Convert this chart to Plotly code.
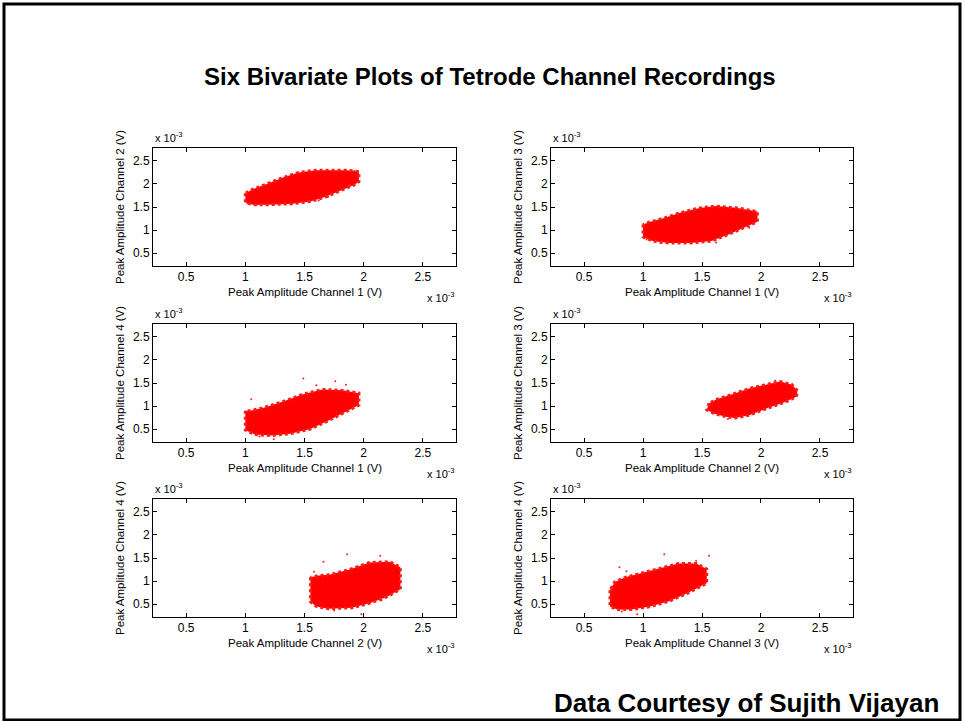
import plotly.graph_objects as go

# Peak amplitudes in mV (axes carry the x 10^-3 V scale label)
# Each cluster is described by its outline and a few stray spikes.
pairs = [("Channel 1", "Channel 2"), ("Channel 1", "Channel 3"),
         ("Channel 1", "Channel 4"), ("Channel 2", "Channel 3"),
         ("Channel 2", "Channel 4"), ("Channel 3", "Channel 4")]

c12_x = [1.00, 1.00, 1.06, 1.20, 1.40, 1.55, 1.68, 1.80, 1.92, 1.96, 1.96, 1.85, 1.60, 1.45, 1.32, 1.18, 1.06]
c12_y = [1.80, 1.60, 1.55, 1.55, 1.57, 1.62, 1.72, 1.85, 1.98, 2.05, 2.27, 2.30, 2.30, 2.25, 2.14, 2.00, 1.88]
o12_x = [1.02, 1.92, 1.62, 1.10, 1.88, 1.70]
o12_y = [1.58, 2.28, 1.64, 1.55, 1.98, 1.72]

c13_x = [1.00, 1.00, 1.08, 1.22, 1.40, 1.58, 1.72, 1.85, 1.97, 1.97, 1.80, 1.62, 1.48, 1.32, 1.18, 1.05]
c13_y = [1.12, 0.85, 0.76, 0.72, 0.72, 0.76, 0.90, 1.05, 1.18, 1.40, 1.48, 1.52, 1.48, 1.38, 1.26, 1.17]
o13_x = [1.03, 1.62, 1.90, 1.15, 1.75]
o13_y = [0.80, 0.73, 1.05, 0.72, 0.98]

c14_x = [1.00, 1.00, 1.08, 1.22, 1.38, 1.55, 1.70, 1.85, 1.96, 1.96, 1.82, 1.65, 1.48, 1.32, 1.15, 1.04]
c14_y = [0.90, 0.48, 0.38, 0.36, 0.40, 0.50, 0.68, 0.88, 1.02, 1.28, 1.34, 1.36, 1.25, 1.10, 0.96, 0.90]
o14_x = [1.49, 1.76, 1.05, 1.24, 1.85, 1.60, 1.12]
o14_y = [1.60, 1.54, 1.15, 0.28, 1.46, 1.45, 0.34]

c23_x = [1.56, 1.54, 1.60, 1.70, 1.78, 1.90, 2.05, 2.20, 2.30, 2.31, 2.26, 2.16, 2.05, 1.90, 1.75, 1.62]
c23_y = [1.06, 0.92, 0.84, 0.77, 0.74, 0.80, 0.95, 1.08, 1.20, 1.33, 1.47, 1.53, 1.47, 1.38, 1.25, 1.14]
o23_x = [2.12, 1.72]
o23_y = [1.55, 0.72]

c24_x = [1.55, 1.55, 1.60, 1.70, 1.90, 2.05, 2.20, 2.31, 2.31, 2.22, 2.05, 1.88, 1.72, 1.62]
c24_y = [1.08, 0.55, 0.45, 0.40, 0.42, 0.52, 0.66, 0.82, 1.30, 1.42, 1.40, 1.25, 1.14, 1.12]
o24_x = [1.86, 2.14, 1.66, 1.98, 2.15, 1.58, 1.75]
o24_y = [1.58, 1.55, 1.42, 0.28, 0.58, 1.20, 0.36]

c34_x = [0.72, 0.72, 0.78, 0.90, 1.05, 1.22, 1.38, 1.54, 1.54, 1.45, 1.30, 1.15, 1.00, 0.85, 0.76]
c34_y = [0.80, 0.45, 0.38, 0.38, 0.44, 0.56, 0.74, 0.95, 1.26, 1.38, 1.38, 1.28, 1.18, 1.08, 0.98]
o34_x = [1.18, 1.56, 0.86, 0.95, 1.45, 0.80, 0.82]
o34_y = [1.58, 1.55, 1.21, 0.28, 1.44, 1.30, 0.34]

clusters = [(c12_x, c12_y, o12_x, o12_y), (c13_x, c13_y, o13_x, o13_y),
            (c14_x, c14_y, o14_x, o14_y), (c23_x, c23_y, o23_x, o23_y),
            (c24_x, c24_y, o24_x, o24_y), (c34_x, c34_y, o34_x, o34_y)]

tick_vals = [0.5, 1, 1.5, 2, 2.5]
tick_text = ["0.5", "1", "1.5", "2", "2.5"]
axis_range = [0.22, 2.78]

W, H = 965, 721
FONT = "Liberation Sans, Arial, sans-serif"


def fx(px):
    return px / W


def fy(py):
    return 1 - py / H


def label(text, px, py, size, xanchor="center", angle=0):
    return dict(text=text, x=fx(px), y=fy(py), xref="paper", yref="paper",
                showarrow=False, xanchor=xanchor, yanchor="middle", textangle=angle,
                font=dict(family=FONT, size=size, color="black"))


cols = [(153, 456), (551, 853)]
rows = [(148, 266), (324, 442), (499, 617)]

fig = go.Figure()
annotations = []
layout_axes = {}

for i, ((xa, ya), (cx, cy, ox, oy)) in enumerate(zip(pairs, clusters)):
    r, c = divmod(i, 2)
    x0, x1 = cols[c]
    y0, y1 = rows[r]
    n = "" if i == 0 else str(i + 1)
    xref, yref = "x" + n, "y" + n

    # dense core with a dotted, speckled rim
    fig.add_trace(go.Scatter(
        x=cx + [cx[0]], y=cy + [cy[0]], xaxis=xref, yaxis=yref,
        mode="lines", fill="toself", fillcolor="#ff0000",
        line=dict(color="#ff1a1a", width=3, dash="dot"),
        hoverinfo="skip", showlegend=False))
    fig.add_trace(go.Scatter(
        x=ox, y=oy, xaxis=xref, yaxis=yref, mode="markers",
        marker=dict(color="#ff2020", size=2), hoverinfo="skip", showlegend=False))

    common = dict(range=axis_range, tickvals=tick_vals, ticktext=tick_text,
                  ticks="inside", ticklen=4, tickcolor="black",
                  showline=True, linecolor="black", linewidth=1, mirror="ticks",
                  showgrid=False, zeroline=False, fixedrange=True,
                  tickfont=dict(family=FONT, size=12, color="black"))
    layout_axes["xaxis" + n] = dict(common, domain=[fx(x0), fx(x1)], anchor=yref)
    layout_axes["yaxis" + n] = dict(common, domain=[fy(y1), fy(y0)], anchor=xref)

    annotations.append(label("Peak Amplitude " + xa + " (V)", (x0 + x1) / 2, y1 + 26, 11.5))
    annotations.append(label("Peak Amplitude " + ya + " (V)", x0 - 33, (y0 + y1) / 2, 11.5, angle=-90))
    annotations.append(label("x 10<sup>-3</sup>", x0, y0 - 11, 11, xanchor="left"))
    annotations.append(label("x 10<sup>-3</sup>", x1 + 1, y1 + 31, 11, xanchor="right"))

annotations.append(label("<b>Six Bivariate Plots of Tetrode Channel Recordings</b>", 490, 77, 24))
annotations.append(label("<b>Data Courtesy of Sujith Vijayan</b>", 941, 703, 26, xanchor="right"))

fig.update_layout(
    width=W, height=H, margin=dict(l=0, r=0, t=0, b=0),
    paper_bgcolor="white", plot_bgcolor="white",
    annotations=annotations,
    shapes=[dict(type="rect", xref="paper", yref="paper",
                 x0=fx(4), x1=fx(960), y0=fy(720), y1=fy(4),
                 line=dict(color="black", width=3))],
    **layout_axes)

fig.write_html("out.html")
